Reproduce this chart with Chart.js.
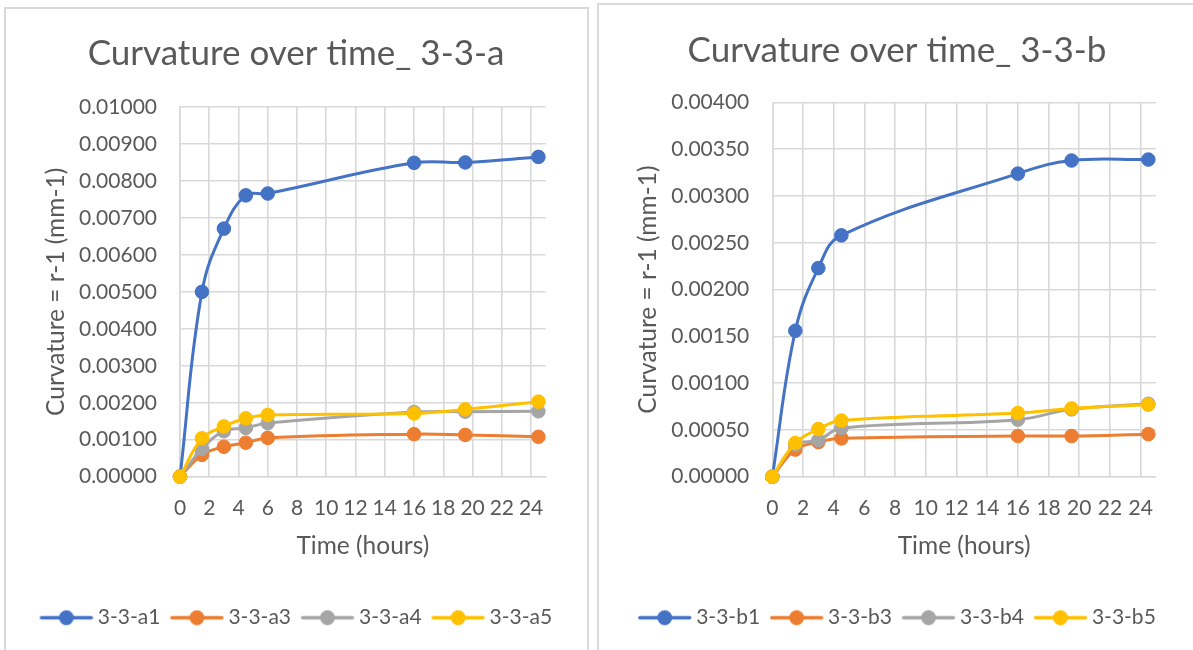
<!DOCTYPE html>
<html>
<head>
<meta charset="utf-8">
<title>Curvature over time</title>
<script src="https://cdn.jsdelivr.net/npm/chart.js@4.4.1/dist/chart.umd.min.js"></script>
<style>
  html, body { margin: 0; padding: 0; background: #ffffff; width: 1193px; height: 650px; overflow: hidden; }
  .panel { position: absolute; box-sizing: border-box; border: 2px solid #d9d9d9; background: #ffffff; }
  #panelA { left: 4px; top: 7px; width: 585px; height: 670px; }
  #panelB { left: 597px; top: 3px; width: 620px; height: 670px; }
  canvas { position: absolute; z-index: 2; }
  #chartA { left: 6px; top: 10px; }
  #chartB { left: 599px; top: 6px; }
</style>
</head>
<body>
<div class="panel" id="panelA"></div>
<div class="panel" id="panelB"></div>
<canvas id="chartA" width="580" height="640"></canvas>
<canvas id="chartB" width="596" height="644"></canvas>
<script>
// ---- specimen set 3-3-a ----
const timeA = [0, 1.5, 3, 4.5, 6, 16, 19.5, 24.5];
const a1 = [0, 0.00500, 0.00671, 0.00761, 0.00766, 0.00849, 0.00850, 0.00865];
const a3 = [0, 0.00059, 0.00081, 0.00092, 0.00105, 0.00115, 0.00113, 0.00108];
const a4 = [0, 0.00075, 0.00123, 0.00132, 0.00145, 0.00175, 0.00176, 0.00177];
const a5 = [0, 0.00104, 0.00136, 0.00158, 0.00167, 0.00171, 0.00182, 0.00203];
const namesA = ['3-3-a1', '3-3-a3', '3-3-a4', '3-3-a5'];

// ---- specimen set 3-3-b ----
const timeB = [0, 1.5, 3, 4.5, 16, 19.5, 24.5];
const b1 = [0, 0.00156, 0.00223, 0.00258, 0.00324, 0.00338, 0.00339];
const b3 = [0, 0.00029, 0.00037, 0.00041, 0.000435, 0.000435, 0.000455];
const b4 = [0, 0.00034, 0.00039, 0.00052, 0.00061, 0.00072, 0.00078];
const b5 = [0, 0.00036, 0.00051, 0.00060, 0.00068, 0.00073, 0.00077];
const namesB = ['3-3-b1', '3-3-b3', '3-3-b4', '3-3-b5'];

// ---- axis ticks ----
const timeTicks = [0, 2, 4, 6, 8, 10, 12, 14, 16, 18, 20, 22, 24];
const curvTicksA = [0, 0.001, 0.002, 0.003, 0.004, 0.005, 0.006, 0.007, 0.008, 0.009, 0.010];
const curvTicksB = [0, 0.0005, 0.0010, 0.0015, 0.0020, 0.0025, 0.0030, 0.0035, 0.0040];

const seriesColors = ['#4472C4', '#ED7D31', '#A5A5A5', '#FFC000'];
const TEXT = '#595959';
const GRID = '#d9d9d9';

Chart.defaults.font.family = 'Lato, "Open Sans", sans-serif';
Chart.defaults.color = TEXT;

// legend key: a short line with a marker in the middle
function legendKey(color) {
  const c = document.createElement('canvas');
  c.width = 60; c.height = 17;
  const g = c.getContext('2d');
  g.strokeStyle = color;
  g.lineWidth = 3.3;
  g.lineCap = 'round';
  g.beginPath(); g.moveTo(7.8, 8.5); g.lineTo(57.7, 8.5); g.stroke();
  g.fillStyle = color;
  g.beginPath(); g.arc(32.75, 8.5, 7.4, 0, Math.PI * 2); g.fill();
  return c;
}

function buildChart(id, opts) {
  const datasets = opts.series.map((vals, i) => ({
    label: opts.names[i],
    data: vals.map((v, k) => ({ x: opts.times[k], y: v })),
    borderColor: seriesColors[i],
    backgroundColor: seriesColors[i],
    pointBackgroundColor: seriesColors[i],
    pointBorderColor: seriesColors[i],
    borderWidth: 3,
    pointRadius: 6.8,
    pointBorderWidth: 1,
    pointHoverRadius: 6.8,
    tension: 0.4,
    fill: false,
    clip: false,
    order: opts.series.length - i
  }));
  const keys = seriesColors.map(legendKey);

  return new Chart(document.getElementById(id), {
    type: 'line',
    data: { datasets },
    options: {
      responsive: false,
      animation: false,
      events: [],
      layout: { padding: { left: 0, right: 0, top: 0, bottom: 11.8 } },
      plugins: {
        tooltip: { enabled: false },
        title: {
          display: true,
          text: opts.title,
          color: TEXT,
          font: { size: 35, weight: 'normal' },
          padding: { top: opts.titleTop, bottom: opts.titleBottom }
        },
        legend: {
          display: true,
          position: 'bottom',
          align: 'center',
          labels: {
            usePointStyle: true,
            pointStyleWidth: 47.5,
            padding: 10,
            color: TEXT,
            font: { size: 21 },
            generateLabels: (chart) => chart.data.datasets.map((ds, i) => ({
              text: ds.label,
              fillStyle: ds.borderColor,
              strokeStyle: ds.borderColor,
              fontColor: TEXT,
              lineWidth: 0,
              pointStyle: keys[i],
              rotation: 0,
              hidden: false,
              datasetIndex: i
            }))
          }
        }
      },
      scales: {
        x: {
          type: 'linear',
          position: 'bottom',
          min: 0,
          max: 25,
          afterBuildTicks: (s) => { s.ticks = timeTicks.map(v => ({ value: v })); },
          afterFit: (s) => { s.height = 120.5; },
          ticks: { padding: 19, color: TEXT, font: { size: 21 }, maxRotation: 0, autoSkip: false },
          grid: { color: GRID, lineWidth: 1.6, drawTicks: false },
          border: { color: GRID, width: 1.6 },
          title: {
            display: true,
            text: 'Time (hours)',
            color: TEXT,
            font: { size: 24.5 },
            padding: { top: 0, bottom: 36.7 }
          }
        },
        y: {
          type: 'linear',
          position: 'left',
          min: 0,
          max: opts.yMax,
          afterBuildTicks: (s) => { s.ticks = opts.yTicks.map(v => ({ value: v })); },
          afterFit: (s) => { s.width = opts.yWidth; },
          ticks: {
            padding: 23,
            color: TEXT,
            font: { size: 21 },
            autoSkip: false,
            callback: (v) => Number(v).toFixed(5)
          },
          grid: { color: GRID, lineWidth: 1.6, drawTicks: false },
          border: { color: GRID, width: 1.6 },
          title: {
            display: true,
            text: 'Curvature = r-1 (mm-1)',
            color: TEXT,
            font: { size: 24.5 },
            padding: { top: opts.yTitlePad, bottom: 0 }
          }
        },
        // blank strip that keeps the plot clear of the right edge
        gutter: {
          type: 'linear',
          position: 'right',
          display: true,
          grid: { display: false },
          border: { display: false },
          ticks: { display: false },
          afterFit: (s) => { s.width = opts.gutter; }
        }
      }
    }
  });
}

function draw() {
  buildChart('chartA', {
    title: 'Curvature over time_ 3-3-a',
    names: namesA,
    times: timeA,
    series: [a1, a3, a4, a5],
    yMax: 0.010,
    yTicks: curvTicksA,
    yWidth: 174,
    gutter: 40.3,
    yTitlePad: 35.3,
    titleTop: 23,
    titleBottom: 32
  });
  buildChart('chartB', {
    title: 'Curvature over time_ 3-3-b',
    names: namesB,
    times: timeB,
    series: [b1, b3, b4, b5],
    yMax: 0.004,
    yTicks: curvTicksB,
    yWidth: 173.3,
    gutter: 39,
    yTitlePad: 34.6,
    titleTop: 24,
    titleBottom: 30.5
  });
}

if (document.fonts && document.fonts.load) {
  Promise.all([document.fonts.load('21px Lato'), document.fonts.load('35px Lato')])
    .then(draw, draw);
} else {
  draw();
}
</script>
</body>
</html>
